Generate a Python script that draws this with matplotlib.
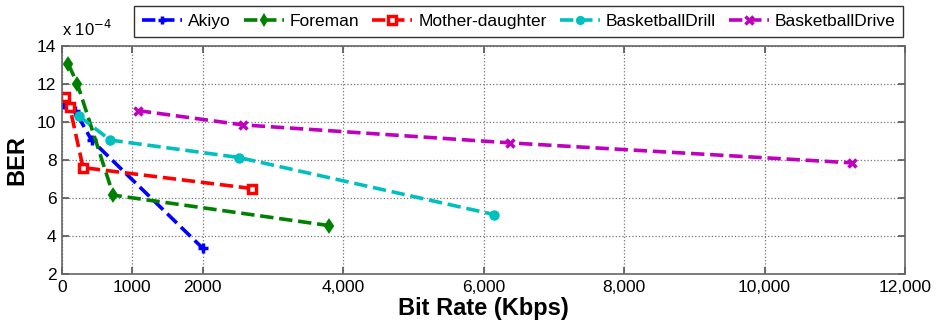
import numpy as np
import matplotlib.pyplot as plt

plt.rcParams['font.family'] = ['Liberation Sans', 'DejaVu Sans']

# Bit rate (Kbps) and BER (x 1e-4) for each test sequence
akiyo_rate = [15, 185, 420, 2005]
akiyo_ber = [10.95, 10.6, 9.05, 3.35]

foreman_rate = [90, 220, 730, 3800]
foreman_ber = [13.05, 12.0, 6.15, 4.55]

mother_rate = [45, 110, 300, 2700]
mother_ber = [11.3, 10.8, 7.6, 6.5]

drill_rate = [246, 685, 2520, 6150]
drill_ber = [10.3, 9.05, 8.13, 5.13]

drive_rate = [1080, 2570, 6380, 11240]
drive_ber = [10.6, 9.85, 8.9, 7.85]

xticks = [0, 1000, 2000, 4000, 6000, 8000, 10000, 12000]
xticklabels = ['0', '1000', '2000', '4,000', '6,000', '8,000', '10,000', '12,000']
yticks = [2, 4, 6, 8, 10, 12, 14]

fig = plt.figure(figsize=(9.38, 3.28), dpi=100)
ax = fig.add_axes([62 / 938, 1 - 274 / 328, 843 / 938, 228 / 328])

lw = 2.6
ax.plot(akiyo_rate, akiyo_ber, '--', color='#0000ff', lw=lw, marker='+',
        ms=7, mew=2.5, label='Akiyo')
ax.plot(foreman_rate, foreman_ber, '--', color='#008000', lw=lw, marker='d',
        ms=6, mew=1.5, label='Foreman')
ax.plot(mother_rate, mother_ber, '--', color='#ff0000', lw=lw, marker='s',
        ms=6, mew=2.5, mfc='white', label='Mother-daughter')
ax.plot(drill_rate, drill_ber, '--', color='#00bfbf', lw=lw, marker='o',
        ms=6, mew=1.5, label='BasketballDrill')
ax.plot(drive_rate, drive_ber, '--', color='#bf00bf', lw=lw, marker='x',
        ms=6, mew=2.5, label='BasketballDrive')

ax.set_xlim(0, 12000)
ax.set_ylim(2, 14)
ax.set_xticks(xticks)
ax.set_xticklabels(xticklabels)
ax.set_yticks(yticks)
ax.tick_params(direction='in', top=True, right=True, length=5, width=1.2,
               color='#555555', labelsize=12.5, pad=4)
ax.grid(True, linestyle=':', color='#777777', linewidth=0.9)
for sp in ax.spines.values():
    sp.set_color('#666666')
    sp.set_linewidth(1.2)

ax.set_xlabel('Bit Rate (Kbps)', fontsize=17, fontweight='bold', labelpad=2)
ax.set_ylabel('BER', fontsize=17, fontweight='bold', labelpad=6)
ax.text(0.0, 1.03, r'x 10$^{-4}$', transform=ax.transAxes, fontsize=12,
        ha='left', va='bottom')

leg = fig.legend(loc='upper left', bbox_to_anchor=(134 / 938, 1 - 6 / 328),
                 ncol=5, fontsize=12.5, frameon=True, fancybox=False,
                 handlelength=2.3, handletextpad=0.35, columnspacing=0.75,
                 borderpad=0.45, borderaxespad=0, markerscale=0.85)
leg.get_frame().set_edgecolor('black')
leg.get_frame().set_linewidth(1.0)

fig.savefig('out.png', dpi=100)
